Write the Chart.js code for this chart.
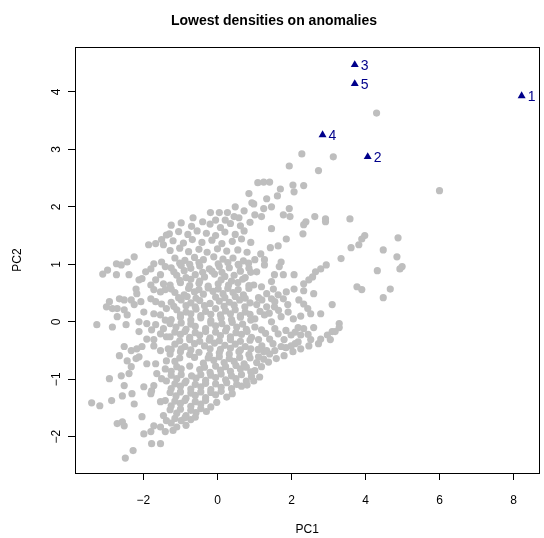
<!DOCTYPE html>
<html>
<head>
<meta charset="utf-8">
<script src="https://cdn.jsdelivr.net/npm/chart.js@4.4.0/dist/chart.umd.min.js"></script>
<style>
  html, body { margin: 0; padding: 0; background: #fff; }
  #wrap { width: 544px; height: 538px; }
</style>
</head>
<body>
<div id="wrap"><canvas id="pcaChart" width="544" height="538"></canvas></div>
<script>
// anomalies (lowest densities), labelled 1..5
const anomalyX = [8.22, 4.06, 3.71, 2.84, 3.71];
const anomalyY = [3.93, 2.87, 4.47, 3.25, 4.14];
const anomalyLabels = ["1", "2", "3", "4", "5"];

// axis ticks
const xTicks = [-2, 0, 2, 4, 6, 8];
const yTicks = [-2, -1, 0, 1, 2, 3, 4];

// all other observations (PC1, PC2)
const normalPoints = [
  // sparse upper part
  [2.28,2.92],[1.94,2.71],[2.73,2.63],[3.13,2.87],[1.09,2.42],[1.25,2.43],[1.41,2.43],[2.04,2.38],
  [2.33,2.37],[1.70,2.31],[2.07,2.26],[1.62,2.19],[1.33,2.14],[0.98,2.05],[1.46,2.00],[1.25,1.97],
  [1.94,1.97],[1.01,1.86],[1.78,1.86],[1.96,1.83],[2.63,1.83],[2.92,1.79],[2.39,1.74],[1.19,1.83],
  [4.30,3.63],[3.58,1.79],[6.00,2.28],[0.85,2.23],[0.93,2.07],[0.48,2.00],[0.72,1.93],[-0.19,1.90],
  [0.05,1.90],[0.27,1.90],[-0.66,1.81],[-0.40,1.74],[0.45,1.83],[-0.05,1.77],[0.21,1.77],[0.58,1.81],
  // right hand scatter
  [3.98,1.50],[3.90,1.44],[4.88,1.46],[3.82,1.34],[3.61,1.29],[4.48,1.25],[4.85,1.13],[3.34,1.10],
  [4.99,0.96],[4.93,0.92],[4.32,0.89],[3.77,0.61],[3.90,0.56],[4.67,0.57],[4.48,0.42],[3.29,-0.03],
  [3.29,-0.10],[3.18,-0.17],
  // middle right
  [1.46,1.62],[2.33,1.69],[2.31,1.53],[2.92,1.74],[1.86,1.44],[1.64,1.32],[1.43,1.29],[1.17,1.18],
  [1.01,1.08],[1.27,1.08],[1.27,0.99],[1.72,1.04],[1.67,0.96],[1.06,0.87],[2.94,0.99],[2.79,0.92],
  [2.65,0.87],[2.07,0.82],[1.78,0.82],[1.54,0.82],[2.57,0.78],[2.47,0.73],[2.33,0.66],[1.46,0.70],
  [0.98,0.64],[1.19,0.61],[1.51,0.57],[2.07,0.57],[1.86,0.52],[2.33,0.54],[2.60,0.49],[1.33,0.49],
  [1.64,0.47],[1.46,0.40],[1.11,0.42],[2.20,0.38],[1.78,0.40],[3.10,0.30],[2.33,0.31],[2.44,0.23],
  [1.54,0.26],[1.33,0.26],[1.06,0.30],[2.52,0.14],[2.79,0.14],[1.91,0.17],[1.72,0.09],[1.27,0.12],
  [1.01,0.05],[1.46,0.00],[2.33,-0.12],[2.60,-0.10],[2.18,-0.10],[3.10,-0.17],[2.97,-0.23],[1.01,-0.09],
  [1.19,-0.14],[1.64,-0.21],[1.99,-0.23],[2.25,-0.23],[2.79,-0.30],[2.52,-0.31],[1.80,-0.31],[1.41,-0.30],
  [1.11,-0.31],[2.18,-0.35],[3.05,-0.31],
  [1.20,-0.42],[1.50,-0.38],[1.85,-0.45],[2.10,-0.38],[1.25,-0.52],[1.55,-0.50],[1.25,-0.65],[1.10,-0.48],
  [1.30,-0.20],[1.55,-0.12],[1.85,-0.15],[2.10,-0.18],[2.45,-0.22],[1.15,0.18],[1.40,0.15],[1.65,0.20],
  [2.05,0.05],[2.25,0.10],[1.20,0.38],[1.55,0.35],[1.90,0.30],
  // lower right band
  [2.47,-0.42],[2.73,-0.38],[2.25,-0.47],[2.04,-0.52],[1.80,-0.59],[1.59,-0.64],[1.38,-0.70],[1.19,-0.78],
  [1.01,-0.85],[0.98,-1.03],[1.14,-0.96],[1.33,-0.50],[1.11,-0.61],[1.06,-0.71],[1.41,-0.56],[1.72,-0.43],
  [1.99,-0.42],
  // left upper
  [-1.67,1.36],[-1.51,1.43],[-1.46,1.34],[-1.86,1.34],[-1.38,1.51],[-2.25,1.13],[-2.44,1.04],[-2.73,1.01],
  [-2.60,0.99],[-2.97,0.90],[-3.10,0.83],[-2.39,0.82],[-2.73,0.82],[-1.72,1.01],[-1.80,0.92],[-1.94,0.87],
  [-2.04,0.75],[-2.12,0.73],[-1.51,1.04],[-1.41,0.96],[-1.54,0.82],[-1.67,0.73],[-1.46,0.66],[-1.80,0.64],
  [-2.20,0.57],[-1.54,0.52],[-1.72,0.56],[-1.41,0.56],[-2.18,0.49],[-2.33,0.38],[-2.52,0.38],[-2.65,0.40],
  [-2.92,0.35],[-3.00,0.26],[-2.84,0.23],[-2.71,0.23],[-2.52,0.21],[-2.25,0.30],[-2.07,0.35],[-1.80,0.40],
  [-1.67,0.35],[-1.51,0.31],[-1.38,0.23],[-2.71,0.09],[-2.44,0.12],[-1.99,0.17],[-1.72,0.14],[-1.54,0.12],
  [-1.41,0.03],[-3.26,-0.05],[-2.84,-0.09],[-2.47,-0.05],[-2.12,0.00],[-1.91,-0.03],[-1.67,-0.05],[-1.46,-0.12],
  [-2.12,-0.17],[-1.78,-0.14],[-1.54,-0.21],[-1.38,-0.26],[-1.91,-0.30],[-1.72,-0.31],
  // left lower
  [-2.52,-0.43],[-2.33,-0.50],[-2.18,-0.47],[-2.04,-0.43],[-1.72,-0.42],[-1.54,-0.50],[-1.33,-0.47],[-2.65,-0.59],
  [-2.44,-0.68],[-2.20,-0.64],[-2.12,-0.61],[-1.91,-0.73],[-1.67,-0.73],[-2.33,-0.78],[-1.38,-0.68],[-1.41,-0.82],
  [-1.64,-0.90],[-1.51,-0.99],[-1.38,-1.03],[-2.92,-0.99],[-2.60,-0.94],[-2.39,-0.90],[-2.52,-1.11],[-1.99,-1.13],
  [-1.72,-1.11],[-1.78,-1.20],[-1.80,-1.25],[-2.31,-1.25],[-2.57,-1.29],[-2.25,-1.43],[-2.86,-1.37],[-3.40,-1.41],
  [-3.18,-1.46],[-1.54,-1.39],[-1.41,-1.37],[-2.04,-1.65],[-1.46,-1.63],[-1.38,-1.72],[-2.71,-1.77],[-2.57,-1.74],
  [-2.52,-1.81],[-1.72,-1.81],[-1.54,-1.83],[-1.99,-1.95],[-1.80,-1.91],[-1.41,-1.91],[-1.78,-2.12],[-1.54,-2.12],
  [-2.28,-2.24],[-2.49,-2.37],
  // dense centre
  [-1.25,1.68],[-0.98,1.72],[-0.70,1.66],[-0.20,1.70],[0.08,1.64],[0.35,1.71],[0.62,1.67],[0.88,1.73],
  [-1.30,1.53],[-1.05,1.57],[-0.80,1.52],[-0.55,1.58],[-0.30,1.54],[-0.05,1.50],[0.20,1.56],[0.48,1.52],[0.72,1.58],
  [-1.20,1.41],[-0.92,1.37],[-0.68,1.43],[-0.42,1.38],[-0.15,1.42],[0.12,1.36],[0.40,1.40],[0.65,1.44],[0.90,1.38],
  [-1.28,1.24],[-1.02,1.28],[-0.78,1.22],[-0.50,1.26],[-0.28,1.21],[0.00,1.27],[0.25,1.23],[0.55,1.25],[0.80,1.21],
  [-1.15,1.11],[-0.88,1.07],[-0.62,1.12],[-0.38,1.08],[-0.10,1.13],[0.15,1.09],[0.42,1.11],[0.70,1.06],
  [-1.25,0.94],[-0.98,0.98],[-0.72,0.93],[-0.48,0.97],[-0.22,0.92],[0.05,0.96],[0.32,0.94],[0.58,0.98],[0.85,0.93],
  [-1.10,0.81],[-0.85,0.77],[-0.60,0.82],[-0.35,0.78],[-0.08,0.83],[0.20,0.79],[0.45,0.81],[0.75,0.77],
  [-1.28,0.64],[-1.00,0.68],[-0.75,0.63],[-0.50,0.67],[-0.25,0.62],[0.02,0.66],[0.30,0.64],[0.55,0.68],[0.85,0.63],
  [-1.15,0.51],[-0.90,0.47],[-0.62,0.52],[-0.38,0.48],[-0.12,0.53],[0.15,0.49],[0.42,0.51],[0.70,0.47],
  [-1.25,0.34],[-0.98,0.38],[-0.72,0.33],[-0.48,0.37],[-0.20,0.32],[0.05,0.36],[0.32,0.34],[0.60,0.38],[0.88,0.33],
  [-1.10,0.21],[-0.85,0.17],[-0.58,0.22],[-0.32,0.18],[-0.05,0.23],[0.22,0.19],[0.48,0.21],[0.75,0.17],
  [-1.25,0.04],[-1.00,0.08],[-0.72,0.03],[-0.45,0.07],[-0.18,0.02],[0.10,0.06],[0.38,0.04],[0.62,0.08],[0.90,0.03],
  [-1.12,-0.09],[-0.85,-0.13],[-0.60,-0.08],[-0.32,-0.12],[-0.05,-0.07],[0.25,-0.11],[0.52,-0.09],[0.78,-0.13],
  [-1.28,-0.26],[-1.00,-0.22],[-0.75,-0.27],[-0.48,-0.23],[-0.20,-0.28],[0.08,-0.24],[0.35,-0.26],[0.65,-0.22],[0.92,-0.27],
  [-1.15,-0.39],[-0.88,-0.43],[-0.62,-0.38],[-0.35,-0.42],[-0.08,-0.37],[0.20,-0.41],[0.48,-0.39],[0.75,-0.43],
  // dense centre, in between
  [-1.02,1.02],[-0.75,1.00],[-0.50,1.03],[0.02,1.01],[0.28,1.03],[0.56,1.00],[0.84,1.02],
  [-1.18,0.87],[-0.90,0.89],[-0.40,0.86],[-0.15,0.88],[0.12,0.86],[0.62,0.88],[0.90,0.86],
  [-1.02,0.72],[-0.72,0.74],[-0.48,0.71],[0.10,0.73],[0.38,0.71],[0.68,0.74],
  [-1.25,0.57],[-0.78,0.58],[-0.50,0.56],[-0.25,0.59],[0.02,0.57],[0.28,0.58],[0.56,0.56],[0.85,0.58],
  [-1.05,0.42],[-0.82,0.44],[-0.58,0.41],[-0.05,0.43],[0.20,0.42],[0.48,0.44],[0.75,0.41],
  [-1.18,0.27],[-0.85,0.28],[-0.60,0.26],[-0.35,0.28],[0.18,0.27],[0.45,0.29],[0.74,0.26],
  [-1.00,0.12],[-0.72,0.14],[-0.45,0.11],[-0.18,0.13],[0.08,0.12],[0.35,0.14],[0.62,0.11],[0.88,0.13],
  [-1.28,-0.03],[-0.98,-0.02],[-0.72,-0.04],[-0.18,-0.02],[0.12,-0.03],[0.40,-0.01],[0.68,-0.04],
  [-1.15,-0.18],[-0.88,-0.17],[-0.60,-0.19],[-0.32,-0.17],[-0.05,-0.18],[0.22,-0.16],[0.50,-0.19],[0.80,-0.17],
  [-1.02,-0.33],[-0.75,-0.31],[-0.48,-0.34],[-0.22,-0.32],[0.05,-0.33],[0.35,-0.31],[0.62,-0.34],[0.88,-0.32],
  // dense lower centre
  [-1.28,-0.56],[-1.00,-0.52],[-0.75,-0.57],[-0.50,-0.53],[-0.22,-0.58],[0.05,-0.54],[0.32,-0.56],[0.58,-0.52],[0.85,-0.57],
  [-1.15,-0.69],[-0.38,-0.72],[-0.10,-0.67],[0.18,-0.71],[0.45,-0.69],[0.72,-0.73],
  [-1.25,-0.86],[-0.98,-0.82],[-0.48,-0.83],[-0.20,-0.88],[0.08,-0.84],[0.35,-0.86],[0.62,-0.82],[0.90,-0.87],
  [-1.10,-0.99],[-0.85,-1.03],[-0.58,-0.98],[-0.32,-1.02],[-0.05,-0.97],[0.22,-1.01],[0.50,-0.99],[0.78,-1.03],
  [-1.25,-1.16],[-1.00,-1.12],[-0.72,-1.17],[-0.45,-1.13],[-0.18,-1.18],[0.10,-1.14],[0.38,-1.16],[0.65,-1.12],
  [-1.12,-1.29],[-0.85,-1.33],[-0.60,-1.28],[-0.32,-1.32],[-0.05,-1.27],[0.25,-1.31],
  [-1.25,-1.46],[-1.00,-1.42],[-0.72,-1.47],[-0.45,-1.43],[-0.18,-1.48],
  [-1.10,-1.59],[-0.85,-1.63],[-0.58,-1.58],[-0.30,-1.56],
  [-1.25,-1.76],[-0.98,-1.72],[-0.72,-1.70],
  [-1.20,-1.89],
  [-1.25,-0.48],[-0.98,-0.47],[-0.72,-0.49],[-0.20,-0.47],[0.08,-0.48],[0.35,-0.46],[0.62,-0.49],[0.90,-0.47],
  [-1.02,-0.63],[-0.62,-0.62],[-0.25,-0.63],[0.05,-0.61],[0.32,-0.64],[0.60,-0.62],[0.88,-0.63],
  [-1.10,-0.78],[-0.75,-0.77],[-0.35,-0.79],[-0.05,-0.77],[0.22,-0.78],[0.50,-0.76],[0.78,-0.79],
  [-1.25,-0.93],[-0.98,-0.92],[-0.70,-0.94],[-0.45,-0.92],[-0.18,-0.93],[0.10,-0.91],[0.38,-0.94],[0.65,-0.92],[0.92,-0.95],
  [-1.15,-1.08],[-0.88,-1.06],[-0.60,-1.09],[-0.32,-1.07],[-0.05,-1.08],[0.25,-1.06],[0.52,-1.09],[0.80,-1.10],
  [-1.28,-1.23],[-1.00,-1.22],[-0.72,-1.24],[-0.45,-1.22],[-0.18,-1.23],[0.10,-1.21],[0.40,-1.25],
  [-1.15,-1.38],[-0.88,-1.37],[-0.60,-1.39],[-0.32,-1.37],[-0.02,-1.40],
  [-1.28,-1.53],[-1.00,-1.52],[-0.72,-1.54],[-0.45,-1.51],
  [-1.15,-1.68],[-0.88,-1.67],[-0.60,-1.66],
  [-1.10,-1.83],[-0.85,-1.80]
];

const FONT = "'Liberation Sans', Arial, Helvetica, sans-serif";
const ANOM_COL = "#00008B";

function minusFmt(v){
	return v < 0 ? "\u2212" + Math.abs(v) : String(v);
}

//box round the plot region, like R's box()
const boxPlugin = {
	id: "plotBox",
	afterDraw(chart){
		let a = chart.chartArea;
		let c = chart.ctx;
		c.save();
		c.strokeStyle = "#000";
		c.lineWidth = 1;
		c.strokeRect(Math.round(a.left) + 0.5, Math.round(a.top) + 0.5, Math.round(a.right - a.left), Math.round(a.bottom - a.top));
		c.restore();
	}
};

//rotated y tick labels
const yLabelPlugin = {
	id: "yTickLabels",
	afterDraw(chart){
		let ys = chart.scales.y;
		let c = chart.ctx;
		c.save();
		c.font = "12px " + FONT;
		c.fillStyle = "#000";
		c.textAlign = "center";
		c.textBaseline = "middle";
		yTicks.forEach(t => {
			let py = ys.getPixelForValue(t);
			c.save();
			c.translate(ys.right - 18, py);
			c.rotate(-Math.PI / 2);
			c.fillText(minusFmt(t), 0, 0);
			c.restore();
		});
		c.restore();
	}
};

//numbers next to the anomaly triangles
const anomalyLabelPlugin = {
	id: "anomalyLabels",
	afterDatasetsDraw(chart){
		let meta = chart.getDatasetMeta(0);
		let c = chart.ctx;
		c.save();
		c.font = "14px " + FONT;
		c.fillStyle = ANOM_COL;
		c.textAlign = "left";
		c.textBaseline = "middle";
		meta.data.forEach((pt, i) => {
			c.fillText(anomalyLabels[i], pt.x + 6, pt.y + 1);
		});
		c.restore();
	}
};

let ctx = document.getElementById("pcaChart").getContext("2d");
let pcaChart = new Chart(ctx, {
	type: "scatter",
	data: {
		datasets: [{
			label: "anomalies",
			data: anomalyX.map((x, i) => ({x: x, y: anomalyY[i]})),
			pointStyle: "triangle",
			pointRadius: 4.6,
			backgroundColor: ANOM_COL,
			borderColor: ANOM_COL,
			borderWidth: 0,
			order: 0
		}, {
			label: "observations",
			data: normalPoints.map(p => ({x: p[0], y: p[1]})),
			pointStyle: "circle",
			pointRadius: 3.6,
			backgroundColor: "#BEBEBE",
			borderWidth: 0,
			order: 1
		}]
	},
	options: {
		responsive: false,
		animation: false,
		devicePixelRatio: 1,
		events: [],
		layout: { padding: { top: 0, left: 0, right: -4, bottom: 0 } },
		plugins: {
			legend: { display: false },
			tooltip: { enabled: false },
			title: {
				display: true,
				text: "Lowest densities on anomalies",
				color: "#000",
				font: { family: FONT, size: 14, weight: "bold" },
				padding: { top: 13, bottom: 17.2 }
			}
		},
		scales: {
			x: {
				type: "linear",
				min: -3.85,
				max: 8.70,
				afterBuildTicks(scale){ scale.ticks = xTicks.map(v => ({value: v})); },
				afterFit(scale){ scale.height = 65; },
				ticks: {
					color: "#000",
					font: { family: FONT, size: 12 },
					padding: 13,
					maxRotation: 0,
					callback: v => minusFmt(v)
				},
				grid: { drawOnChartArea: false, drawTicks: true, tickLength: 7, color: "#000" },
				border: { display: false },
				title: {
					display: true,
					text: "PC1",
					color: "#000",
					font: { family: FONT, size: 12 },
					padding: { top: 0, bottom: 1 }
				}
			},
			y: {
				type: "linear",
				min: -2.63,
				max: 4.78,
				afterBuildTicks(scale){ scale.ticks = yTicks.map(v => ({value: v})); },
				afterFit(scale){ scale.width = 75; },
				ticks: { display: false },
				grid: { drawOnChartArea: false, drawTicks: true, tickLength: 7, color: "#000" },
				border: { display: false },
				title: {
					display: true,
					text: "PC2",
					color: "#000",
					font: { family: FONT, size: 12 },
					padding: { top: 10, bottom: 0 }
				}
			}
		}
	},
	plugins: [boxPlugin, yLabelPlugin, anomalyLabelPlugin]
});
</script>
</body>
</html>
